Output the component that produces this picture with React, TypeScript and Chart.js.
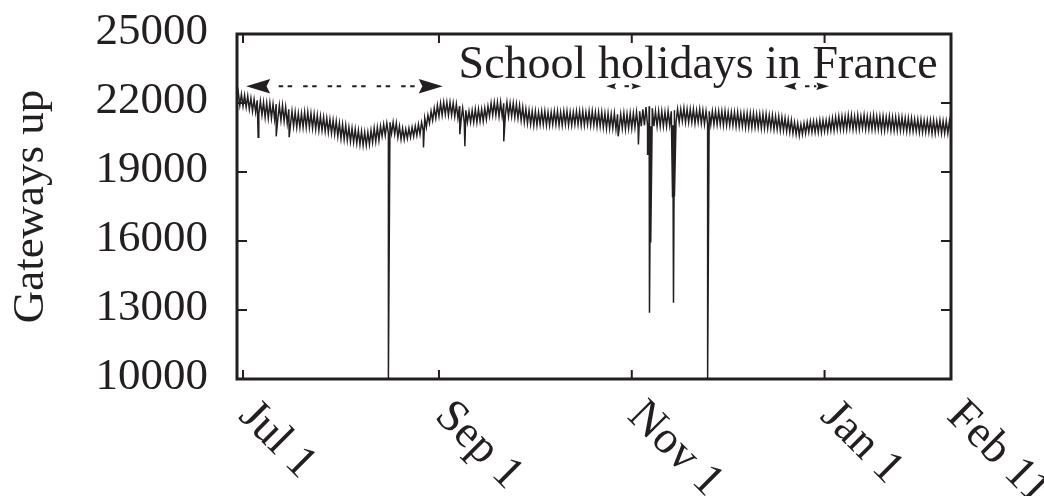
import { useEffect, useRef } from "react";
import { Chart, registerables } from "chart.js";

Chart.register(...registerables);

// Days counted from Jul 1 (day 0). Daily envelope of the gateway count.
const FIRST_DAY = -2;

const dayHigh = [
  22470, 22380, 22340, 22300, 22210, 22160, 22120, 22080, 22030, 21990,
  21990, 21950, 21950, 21900, 21900, 21820, 21730, 21640, 21600, 21550,
  21550, 21600, 21600, 21550, 21510, 21470, 21420, 21380, 21340, 21290,
  21250, 21210, 21120, 21070, 21030, 20940, 20900, 20860, 20810, 20770,
  20730, 20730, 20810, 20900, 20940, 20990, 21070, 21120, 21160, 21160,
  21120, 20990, 20900, 20860, 20900, 20940, 20990, 21070, 21160, 21340,
  21470, 21640, 21770, 21900, 21990, 22030, 22030, 22030, 21990, 21950,
  21860, 21770, 21680, 21640, 21680, 21730, 21730, 21730, 21770, 21860,
  21990, 22030, 22030, 22030, 21990, 22030, 21990, 21990, 21950, 21900,
  21820, 21730, 21680, 21640, 21640, 21600, 21640, 21640, 21600, 21600,
  21640, 21640, 21600, 21640, 21640, 21600, 21600, 21640, 21640, 21640,
  21600, 21640, 21640, 21600, 21600, 21600, 21550, 21550, 21510, 21550,
  21510, 21510, 21550, 21510, 21550, 21550, 21600, 21640, 21730, 21820,
  21860, 21770, 21640, 21640, 21640, 21600, 21640, 21640, 21680, 21730,
  21730, 21770, 21730, 21730, 21730, 21680, 21730, 21680, 21640, 21640,
  21640, 21640, 21640, 21640, 21640, 21600, 21600, 21600, 21600, 21550,
  21550, 21550, 21550, 21550, 21510, 21510, 21510, 21510, 21470, 21470,
  21420, 21420, 21380, 21340, 21290, 21250, 21160, 21120, 21070, 21120,
  21160, 21210, 21210, 21210, 21250, 21250, 21250, 21290, 21340, 21380,
  21420, 21420, 21420, 21470, 21470, 21420, 21470, 21420, 21470, 21420,
  21420, 21470, 21420, 21420, 21420, 21380, 21420, 21380, 21380, 21380,
  21380, 21340, 21340, 21340, 21290, 21290, 21290, 21250, 21250, 21250,
  21250, 21210, 21250, 21210, 21210, 21210, 21160, 21210,
];

const dayLow = [
  21990, 21900, 21860, 21820, 21730, 21640, 21600, 21510, 21470, 21380,
  21340, 21340, 21290, 21290, 21250, 21210, 21120, 21030, 20990, 20940,
  20940, 20940, 20940, 20940, 20900, 20860, 20810, 20810, 20770, 20730,
  20680, 20640, 20550, 20460, 20420, 20380, 20330, 20290, 20250, 20200,
  20160, 20160, 20200, 20290, 20330, 20380, 20550, 20590, 20680, 20680,
  20640, 20510, 20420, 20420, 20460, 20510, 20550, 20590, 20640, 20810,
  20940, 21120, 21250, 21340, 21420, 21470, 21510, 21470, 21470, 21420,
  21340, 21250, 21160, 21160, 21160, 21160, 21160, 21210, 21210, 21290,
  21420, 21470, 21470, 21420, 21420, 21470, 21420, 21420, 21380, 21340,
  21250, 21160, 21120, 21070, 21030, 21030, 21070, 21070, 21030, 21030,
  21070, 21070, 21030, 21030, 21070, 21030, 21030, 21070, 21070, 21030,
  21030, 21070, 21030, 21030, 20990, 20990, 20940, 20900, 20900, 20900,
  20860, 20860, 20900, 20860, 20900, 20900, 20940, 20940, 20990, 21030,
  20990, 20990, 20990, 20990, 20990, 20990, 20990, 21030, 21030, 21160,
  21160, 21210, 21160, 21160, 21160, 21120, 21160, 21120, 21070, 21070,
  21070, 21070, 21070, 21070, 21030, 21030, 21030, 21030, 20990, 20990,
  20990, 20940, 20940, 20940, 20940, 20940, 20900, 20900, 20900, 20900,
  20860, 20860, 20810, 20810, 20770, 20730, 20680, 20640, 20590, 20640,
  20680, 20730, 20730, 20730, 20730, 20730, 20770, 20770, 20810, 20810,
  20860, 20860, 20860, 20860, 20900, 20860, 20860, 20860, 20900, 20860,
  20860, 20860, 20860, 20860, 20810, 20810, 20860, 20810, 20810, 20810,
  20810, 20810, 20770, 20770, 20770, 20770, 20730, 20730, 20730, 20730,
  20680, 20680, 20730, 20680, 20680, 20680, 20640, 20680,
];

// Short outages (downward spikes)
const dipDays = [4.8, 10.5, 14.6, 46.0, 57.1, 68.6, 70.2, 82.5, 118.7, 125.1, 128.0, 128.3, 128.6, 129.0, 135.9, 136.2, 136.5, 147.0];
const dipValues = [20510, 20550, 20510, 10000, 20070, 20640, 20120, 20330, 20550, 20200, 19770, 19770, 12880, 15930, 17940, 13310, 17940, 10000];

const tickDays = [0, 62, 123, 184, 224];
const tickLabels = ["Jul 1", "Sep 1", "Nov 1", "Jan 1", "Feb 11"];
const yTicks = [10000, 13000, 16000, 19000, 22000, 25000];

const holidayStart = [1, 114.9, 171.1];
const holidayEnd = [63.2, 126, 185.4];
const holidayLevel = 22730;

const noteText = "School holidays in France";
const noteDay = 144;
const noteValue = 23080;
const yTitle = "Gateways up";

const X_MIN = -1.9;
const X_MAX = 224;
const Y_MIN = 10000;
const Y_MAX = 25000;

const INK = "#231f20";
const font = (s: number) => `${s}px "Liberation Serif", "Times New Roman", serif`;

const decorPlugin = {
  id: "decor",
  afterDraw(chart: any) {
    const { ctx, chartArea: a, scales } = chart;
    const xs = scales.x;
    const ys = scales.y;
    ctx.save();
    ctx.strokeStyle = INK;
    ctx.fillStyle = INK;

    // tick marks (inward, mirrored)
    ctx.lineWidth = 2;
    ctx.beginPath();
    yTicks.forEach((v) => {
      const y = ys.getPixelForValue(v);
      ctx.moveTo(a.left, y);
      ctx.lineTo(a.left + 10, y);
      ctx.moveTo(a.right, y);
      ctx.lineTo(a.right - 10, y);
    });
    tickDays.forEach((d) => {
      const x = xs.getPixelForValue(d);
      ctx.moveTo(x, a.bottom);
      ctx.lineTo(x, a.bottom - 9);
      ctx.moveTo(x, a.top);
      ctx.lineTo(x, a.top + 9);
    });
    ctx.stroke();

    // frame
    ctx.lineWidth = 3;
    ctx.strokeRect(a.left, a.top, a.right - a.left, a.bottom - a.top);

    // y tick labels
    ctx.font = font(45);
    ctx.textAlign = "right";
    ctx.textBaseline = "middle";
    yTicks.forEach((v) => ctx.fillText(String(v), a.left - 29, ys.getPixelForValue(v) - 2));

    // x tick labels rotated
    ctx.font = font(46);
    ctx.textAlign = "left";
    ctx.textBaseline = "middle";
    tickDays.forEach((d, i) => {
      const x = xs.getPixelForValue(d);
      ctx.save();
      ctx.translate(x + 3, a.bottom + 30);
      ctx.rotate(Math.PI / 4);
      ctx.fillText(tickLabels[i], 0, 0);
      ctx.restore();
    });

    // y title
    ctx.font = font(45);
    ctx.save();
    ctx.translate(43, (a.top + a.bottom) / 2);
    ctx.rotate(-Math.PI / 2);
    ctx.textAlign = "center";
    ctx.textBaseline = "alphabetic";
    ctx.fillText(yTitle, 0, 0);
    ctx.restore();

    // note
    ctx.font = font(46);
    ctx.textAlign = "center";
    ctx.textBaseline = "alphabetic";
    ctx.fillText(noteText, xs.getPixelForValue(noteDay), ys.getPixelForValue(noteValue));

    // holiday arrows
    const y = ys.getPixelForValue(holidayLevel);
    holidayStart.forEach((s, i) => {
      const x1 = xs.getPixelForValue(s);
      const x2 = xs.getPixelForValue(holidayEnd[i]);
      const len = x2 - x1;
      const head = Math.min(24, len * 0.28);
      const hw = Math.max(3, head * 0.3);
      ctx.save();
      ctx.lineWidth = 2;
      ctx.setLineDash([4.5, 4.5, 4.5, 11]);
      ctx.lineDashOffset = 16;
      ctx.beginPath();
      ctx.moveTo(x1 + head, y);
      ctx.lineTo(x2 - head, y);
      ctx.stroke();
      ctx.restore();
      ctx.beginPath();
      ctx.moveTo(x1, y);
      ctx.lineTo(x1 + head, y - hw);
      ctx.lineTo(x1 + head * 0.85, y);
      ctx.lineTo(x1 + head, y + hw);
      ctx.closePath();
      ctx.fill();
      ctx.beginPath();
      ctx.moveTo(x2, y);
      ctx.lineTo(x2 - head, y - hw);
      ctx.lineTo(x2 - head * 0.85, y);
      ctx.lineTo(x2 - head, y + hw);
      ctx.closePath();
      ctx.fill();
    });

    ctx.restore();
  },
};

export default function App() {
  const ref = useRef<HTMLCanvasElement | null>(null);

  useEffect(() => {
    if (!ref.current) return;
    const points: { x: number; y: number }[] = [];
    dayHigh.forEach((h, i) => {
      const d = FIRST_DAY + i;
      points.push({ x: d, y: dayLow[i] });
      points.push({ x: d + 0.5, y: h });
    });
    dipDays.forEach((d, i) => points.push({ x: d, y: dipValues[i] }));
    points.sort((p, q) => p.x - q.x);

    const chart = new Chart(ref.current, {
      type: "line",
      data: {
        datasets: [
          {
            data: points,
            borderColor: INK,
            borderWidth: 1.5,
            pointRadius: 0,
            tension: 0,
            fill: false,
          },
        ],
      },
      options: {
        responsive: false,
        animation: false,
        events: [],
        layout: { padding: { left: 237, right: 93, top: 34, bottom: 117 } },
        plugins: { legend: { display: false }, tooltip: { enabled: false } },
        scales: {
          x: { type: "linear", display: false, min: X_MIN, max: X_MAX },
          y: { type: "linear", display: false, min: Y_MIN, max: Y_MAX },
        },
      },
      plugins: [decorPlugin],
    });
    return () => chart.destroy();
  }, []);

  return (
    <canvas
      ref={ref}
      width={1044}
      height={496}
      style={{ position: "absolute", left: 0, top: 0, display: "block" }}
    />
  );
}
